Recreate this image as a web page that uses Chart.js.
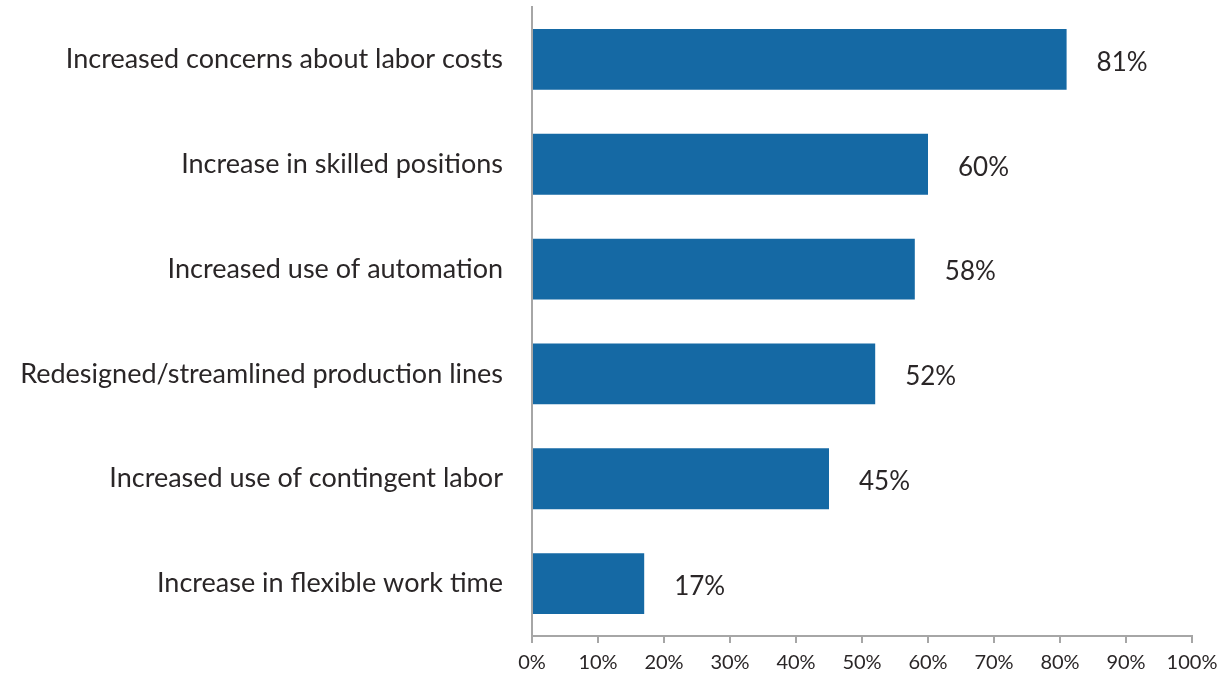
<!DOCTYPE html>
<html>
<head>
<meta charset="utf-8">
<script src="https://cdn.jsdelivr.net/npm/chart.js@4.4.1/dist/chart.umd.min.js"></script>
<style>
  html, body { margin: 0; padding: 0; background: #fff; }
  #wrap { width: 1222px; height: 673px; }
</style>
</head>
<body>
<div id="wrap"><canvas id="chart" width="1222" height="673"></canvas></div>
<script>
const categories = [
  'Increased concerns about labor costs',
  'Increase in skilled positions',
  'Increased use of automation',
  'Redesigned/streamlined production lines',
  'Increased use of contingent labor',
  'Increase in flexible work time',
];
const shares = [81, 60, 58, 52, 45, 17];
const xTicks = [0, 10, 20, 30, 40, 50, 60, 70, 80, 90, 100];

const FONT = 'Lato, "Open Sans", sans-serif';
const AXIS_GREY = '#a6a6a6';
const TEXT = '#2a2627';

// value labels to the right of each bar
const _valueLabels = {
  id: 'valueLabels',
  afterDatasetsDraw(chart) {
    const { ctx } = chart;
    const meta = chart.getDatasetMeta(0);
    ctx.save();
    ctx.font = '26px ' + FONT;
    ctx.fillStyle = TEXT;
    ctx.textAlign = 'left';
    ctx.textBaseline = 'middle';
    meta.data.forEach((bar, i) => {
      ctx.fillText(shares[i] + '%', bar.x + 30, bar.y + 3);
    });
    ctx.restore();
  },
};

new Chart(document.getElementById('chart'), {
  type: 'bar',
  data: {
    labels: categories,
    datasets: [{
      data: shares,
      backgroundColor: '#1569a4',
      borderWidth: 0,
      categoryPercentage: 0.58,
      barPercentage: 1,
    }],
  },
  options: {
    indexAxis: 'y',
    responsive: false,
    animation: false,
    layout: { padding: { top: 7, right: 30, left: 0, bottom: 0 } },
    plugins: {
      legend: { display: false },
      tooltip: { enabled: false },
    },
    scales: {
      x: {
        min: 0,
        max: 100,
        afterBuildTicks: scale => { scale.ticks = xTicks.map(v => ({ value: v })); },
        afterFit: scale => {
          scale.height = 37;
          // keep the axis end fixed; the layout padding leaves room for "100%"
          scale.paddingLeft = 0;
          scale.paddingRight = 0;
        },
        grid: { drawOnChartArea: false, drawTicks: true, tickLength: 7, color: AXIS_GREY, lineWidth: 2 },
        border: { display: true, color: AXIS_GREY, width: 2 },
        ticks: {
          padding: 8,
          color: TEXT,
          font: { family: FONT, size: 20 },
          callback: v => v + '%',
          maxRotation: 0,
        },
      },
      y: {
        afterFit: scale => {
          scale.width = 532;
          // tick padding would otherwise push the plot area down
          scale.paddingTop = 0;
          scale.paddingBottom = 0;
        },
        grid: { display: false, drawTicks: false },
        border: { display: true, color: AXIS_GREY, width: 2 },
        ticks: {
          padding: 29,
          color: TEXT,
          font: { family: FONT, size: 27 },
        },
      },
    },
  },
  plugins: [_valueLabels],
});
</script>
</body>
</html>
